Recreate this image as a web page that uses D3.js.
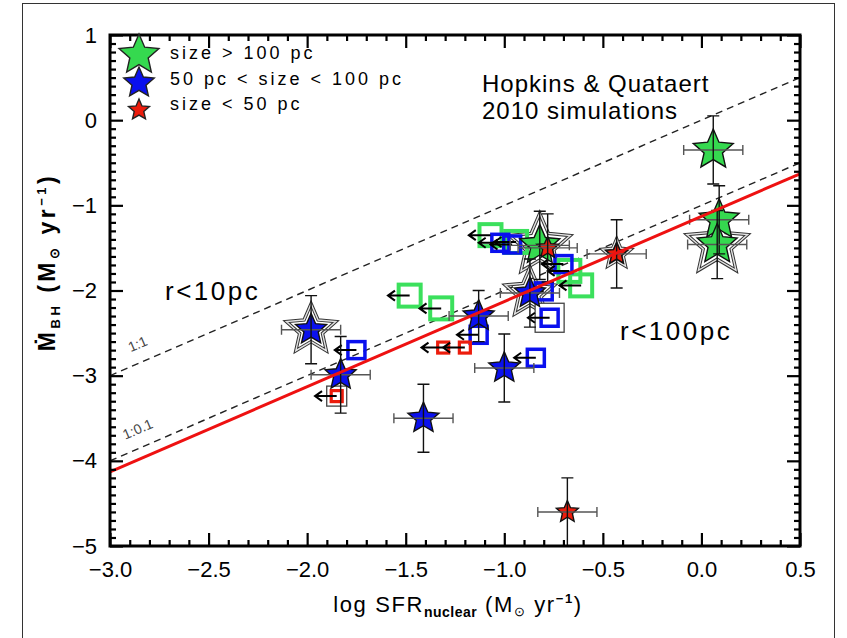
<!DOCTYPE html>
<html><head><meta charset="utf-8">
<script src="https://cdn.jsdelivr.net/npm/d3@7"></script>
<style>
body{margin:0;background:#fff}
text{font-family:"Liberation Sans",Arial,sans-serif}
</style>
</head><body>
<svg id="c" width="847" height="638"></svg>
<script>
// ---------- data ----------
const xTicks = [-3.0,-2.5,-2.0,-1.5,-1.0,-0.5,0.0,0.5];
const yTicks = [1,0,-1,-2,-3,-4,-5];
// stars: [logSFR, logMdot, xerr, yerr]
const starsLarge  = [[0.06,-0.35,0.15,0.40],[0.09,-1.17,0.15,0.40],[0.08,-1.46,0.15,0.40],[-0.82,-1.47,0.15,0.40]];
const starsMedium = [[-1.98,-2.46,0.15,0.40],[-1.83,-2.99,0.15,0.45],[-1.41,-3.50,0.15,0.40],[-1.13,-2.30,0.15,0.30],[-1.00,-2.91,0.15,0.40],[-0.87,-2.03,0.15,0.40]];
const starsSmall  = [[-0.78,-1.50,0.15,0.40],[-0.43,-1.57,0.15,0.40],[-0.68,-4.60,0.15,0.40]];
const haloLarge   = [[0.08,-1.46],[-0.82,-1.47]];
const haloMedium  = [[-1.98,-2.46],[-0.87,-2.03]];
const haloSmall   = [[-0.43,-1.57]];
// upper limits on SFR (squares with left arrows): [logSFR, logMdot]
const limitsLarge  = [[-1.48,-2.06],[-1.32,-2.21],[-1.07,-1.35],[-0.94,-1.43],[-0.67,-1.77],[-0.61,-1.94]];
const limitsMedium = [[-1.02,-1.44],[-0.96,-1.46],[-0.70,-1.69],[-0.80,-2.01],[-0.77,-2.32],[-1.75,-2.70],[-1.13,-2.52],[-0.84,-2.79]];
const limitsSmall  = [[-1.85,-3.24],[-1.31,-2.67],[-1.20,-2.67]];
const boxedSmall   = [[-1.85,-3.24]];
const boxedMedium  = [[-0.77,-2.32]];
const arrowLength  = 0.11;
// reference relations: logMdot = logSFR + offset
const relationNames   = ["1:1","1:0.1"];
const relationOffsets = [0,-1];
const fitSlope = 1.0, fitIntercept = -1.13;
const legendLabels = ["size > 100 pc","50 pc < size < 100 pc","size < 50 pc"];

// ---------- setup ----------
const svg = d3.select("#c");
const x = d3.scaleLinear([-3,0.5],[110,800]);
const y = d3.scaleLinear([-5,1],[546,35]);
const GREEN="#35d94f", BLUE="#0a10ee", RED="#ec1c0c";

svg.append("rect").attr("x",22.5).attr("y",3.5).attr("width",812).attr("height",700)
  .attr("fill","none").attr("stroke","#333").attr("stroke-width",1);

svg.append("defs").append("clipPath").attr("id","clip").append("rect")
  .attr("x",110).attr("y",35).attr("width",690).attr("height",511);

function starPath(r, ratio=0.46){
  const pts=[];
  for(let i=0;i<10;i++){
    const a=-Math.PI/2+i*Math.PI/5, rr=(i%2)?r*ratio:r;
    pts.push([rr*Math.cos(a), rr*Math.sin(a)]);
  }
  return "M"+pts.map(p=>p[0].toFixed(2)+","+p[1].toFixed(2)).join("L")+"Z";
}

const plot = svg.append("g").attr("clip-path","url(#clip)");

// dashed relations
relationOffsets.forEach((o,i)=>{
  plot.append("line")
    .attr("x1",x(-3)).attr("y1",y(-3+o)).attr("x2",x(0.5)).attr("y2",y(0.5+o))
    .attr("stroke","#222").attr("stroke-width",1.4).attr("stroke-dasharray","7,5");
});
// relation labels
const ang = -Math.atan((y(0)-y(1))/(x(1)-x(0)))*180/Math.PI;
relationNames.forEach((n,i)=>{
  const lx=-2.85, ly=lx+relationOffsets[i]+0.17;
  svg.append("text").attr("transform",`translate(${x(lx)},${y(ly)}) rotate(${ang})`)
    .attr("font-size",14).attr("fill","#444").attr("text-anchor","middle").text(n);
});

// halos
function halos(data,r){
  plot.selectAll(null).data(data).join("path")
    .attr("transform",d=>`translate(${x(d[0])},${y(d[1])})`)
    .attr("d",starPath(r)).attr("fill","none").attr("stroke","#333").attr("stroke-width",3.4);
  plot.selectAll(null).data(data).join("path")
    .attr("transform",d=>`translate(${x(d[0])},${y(d[1])})`)
    .attr("d",starPath(r)).attr("fill","none").attr("stroke","#e4e4e4").attr("stroke-width",1.4);
}
halos(haloLarge,32); halos(haloMedium,26); halos(haloSmall,15);

// boxed outlines
function boxes(data,s){
  plot.selectAll(null).data(data).join("rect")
    .attr("x",d=>x(d[0])-s/2).attr("y",d=>y(d[1])-s/2).attr("width",s).attr("height",s)
    .attr("fill","#fff").attr("stroke","#444").attr("stroke-width",1.3);
}
boxes(boxedSmall,20); boxes(boxedMedium,29);

// squares
function squares(data,s,col,w){
  plot.selectAll(null).data(data).join("rect")
    .attr("x",d=>x(d[0])-s/2).attr("y",d=>y(d[1])-s/2).attr("width",s).attr("height",s)
    .attr("fill","none").attr("stroke",col).attr("stroke-width",w);
}
squares(limitsLarge,22,"#3be05c",4);
squares(limitsMedium,17,BLUE,3.5);
squares(limitsSmall,11,RED,3.2);

// arrows
function arrows(data){
  const g=plot.append("g").attr("stroke","#000").attr("stroke-width",2).attr("fill","none");
  g.selectAll(null).data(data).join("path").attr("d",d=>{
    const x0=x(d[0]), x1=x(d[0]-arrowLength), yy=y(d[1]);
    return `M${x0},${yy}L${x1},${yy}M${x1+7},${yy-5}L${x1},${yy}L${x1+7},${yy+5}`;
  });
}
arrows(limitsLarge); arrows(limitsMedium); arrows(limitsSmall);

// stars
function stars(data,r,col){
  plot.selectAll(null).data(data).join("path")
    .attr("transform",d=>`translate(${x(d[0])},${y(d[1])})`)
    .attr("d",starPath(r)).attr("fill",col).attr("stroke","#111").attr("stroke-width",1.4);
}
stars(starsLarge,21,GREEN); stars(starsMedium,16.3,BLUE); stars(starsSmall,11.5,RED);

// error bars
function errbars(data){
  const g=plot.append("g").attr("fill","none");
  data.forEach(d=>{
    const cx=x(d[0]), cy=y(d[1]), xl=x(d[0]-d[2]), xr=x(d[0]+d[2]), yt=y(d[1]+d[3]), yb=y(d[1]-d[3]);
    g.append("path").attr("stroke","#555").attr("stroke-width",1.4)
      .attr("d",`M${xl},${cy}L${xr},${cy}M${xl},${cy-5}L${xl},${cy+5}M${xr},${cy-5}L${xr},${cy+5}`);
    g.append("path").attr("stroke","#111").attr("stroke-width",1.4)
      .attr("d",`M${cx},${yt}L${cx},${yb}M${cx-6},${yt}L${cx+6},${yt}M${cx-6},${yb}L${cx+6},${yb}`);
  });
}
errbars(starsLarge); errbars(starsMedium); errbars(starsSmall);

// fit line
plot.append("line")
  .attr("x1",x(-3)).attr("y1",y(-3*fitSlope+fitIntercept))
  .attr("x2",x(0.5)).attr("y2",y(0.5*fitSlope+fitIntercept))
  .attr("stroke","#ee1111").attr("stroke-width",3);

// ---------- axes ----------
const fmtX = d3.format(".1f");
function styleAxis(g){ g.select(".domain").remove(); g.selectAll("line").attr("stroke","#000").attr("stroke-width",2.2); }
const minorX = d3.range(-30,6).map(v=>v/10).filter(v=>!xTicks.some(t=>Math.abs(t-v)<1e-6));
const minorY = d3.range(-50,11).map(v=>v/10).filter(v=>!yTicks.some(t=>Math.abs(t-v)<1e-6));

svg.append("g").attr("transform","translate(0,546)")
  .call(d3.axisBottom(x).tickValues(xTicks).tickSize(-13).tickPadding(15).tickFormat(fmtX))
  .call(styleAxis).call(g=>g.selectAll("text").attr("font-size",22));
svg.append("g").attr("transform","translate(0,546)")
  .call(d3.axisBottom(x).tickValues(minorX).tickSize(-6).tickFormat("")).call(styleAxis);
svg.append("g").attr("transform","translate(0,35)")
  .call(d3.axisTop(x).tickValues(xTicks).tickSize(-13).tickFormat("")).call(styleAxis);
svg.append("g").attr("transform","translate(0,35)")
  .call(d3.axisTop(x).tickValues(minorX).tickSize(-6).tickFormat("")).call(styleAxis);

svg.append("g").attr("transform","translate(110,0)")
  .call(d3.axisLeft(y).tickValues(yTicks).tickSize(-13).tickPadding(13).tickFormat(d3.format("d")))
  .call(styleAxis).call(g=>g.selectAll("text").attr("font-size",22));
svg.append("g").attr("transform","translate(110,0)")
  .call(d3.axisLeft(y).tickValues(minorY).tickSize(-6).tickFormat("")).call(styleAxis);
svg.append("g").attr("transform","translate(800,0)")
  .call(d3.axisRight(y).tickValues(yTicks).tickSize(-13).tickFormat("")).call(styleAxis);
svg.append("g").attr("transform","translate(800,0)")
  .call(d3.axisRight(y).tickValues(minorY).tickSize(-6).tickFormat("")).call(styleAxis);

svg.append("rect").attr("x",110).attr("y",35).attr("width",690).attr("height",511)
  .attr("fill","none").attr("stroke","#000").attr("stroke-width",3);

// axis labels
const xl = svg.append("text").attr("x",458).attr("y",612).attr("text-anchor","middle")
  .attr("font-size",22).attr("letter-spacing",1.6);
xl.append("tspan").text("log SFR");
xl.append("tspan").attr("font-size",14).attr("font-weight","bold").attr("letter-spacing",0.5).attr("dy",5).text("nuclear");
xl.append("tspan").attr("dy",-5).text(" (M");
xl.append("tspan").attr("font-size",13).attr("dy",4).text("⊙");
xl.append("tspan").attr("dy",-4).text(" yr");
xl.append("tspan").attr("font-size",13).attr("font-weight","bold").attr("dy",-9).text("−1");
xl.append("tspan").attr("dy",9).text(")");

const yl = svg.append("text").attr("transform","translate(55,262) rotate(-90)").attr("text-anchor","middle")
  .attr("font-size",23).attr("font-weight","bold").attr("letter-spacing",3.5);
yl.append("tspan").text("Ṁ");
yl.append("tspan").attr("font-size",13).attr("dy",5).text("BH");
yl.append("tspan").attr("dy",-5).text(" (M");
yl.append("tspan").attr("font-size",13).attr("dy",4).text("⊙");
yl.append("tspan").attr("dy",-4).text(" yr");
yl.append("tspan").attr("font-size",13).attr("dy",-9).text("−1");
yl.append("tspan").attr("dy",9).text(")");

// annotations
const ann = [["Hopkins & Quataert",482,92,24,1],["2010 simulations",482,119,24,1],["r<10pc",165,300,26,2.5],["r<100pc",620,340,26,2.5]];
svg.selectAll(null).data(ann).join("text").attr("x",d=>d[1]).attr("y",d=>d[2])
  .attr("font-size",d=>d[3]).attr("letter-spacing",d=>d[4]).attr("fill","#000").text(d=>d[0]);

// legend
const legR=[21,16,11], legC=[GREEN,BLUE,RED], legY=[55,83,110], legTY=[59,85,110];
legendLabels.forEach((t,i)=>{
  svg.append("path").attr("transform",`translate(139,${legY[i]})`).attr("d",starPath(legR[i]))
    .attr("fill",legC[i]).attr("stroke","#222").attr("stroke-width",1.4);
  svg.append("text").attr("x",170).attr("y",legTY[i]).attr("font-size",18)
    .attr("letter-spacing",3).text(t);
});
</script>
</body></html>
